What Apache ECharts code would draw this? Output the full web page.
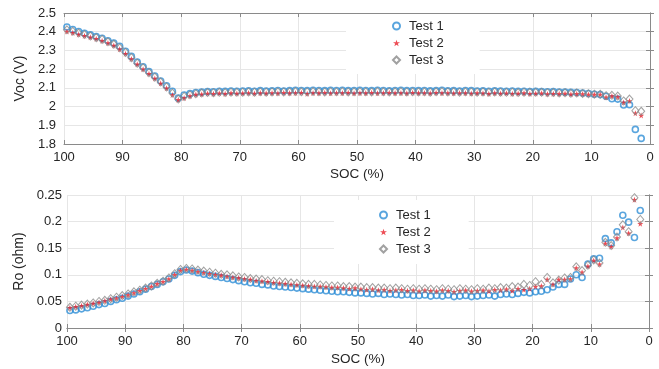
<!DOCTYPE html>
<html><head><meta charset="utf-8">
<script src="https://cdn.jsdelivr.net/npm/echarts@6/dist/echarts.min.js"></script>
<style>html,body{margin:0;padding:0;background:#fff}#c{width:659px;height:369px}</style>
</head><body><div id="c"></div>
<script>
const soc = [99.5,98.5,97.5,96.5,95.5,94.5,93.5,92.5,91.5,90.5,
89.5,88.5,87.5,86.5,85.5,84.5,83.5,82.5,81.5,80.5,
79.5,78.5,77.5,76.5,75.5,74.5,73.5,72.5,71.5,70.5,
69.5,68.5,67.5,66.5,65.5,64.5,63.5,62.5,61.5,60.5,
59.5,58.5,57.5,56.5,55.5,54.5,53.5,52.5,51.5,50.5,
49.5,48.5,47.5,46.5,45.5,44.5,43.5,42.5,41.5,40.5,
39.5,38.5,37.5,36.5,35.5,34.5,33.5,32.5,31.5,30.5,
29.5,28.5,27.5,26.5,25.5,24.5,23.5,22.5,21.5,20.5,
19.5,18.5,17.5,16.5,15.5,14.5,13.5,12.5,11.5,10.5,
9.5,8.5,7.5,6.5,5.5,4.5,3.5,2.5,1.5];

const vocTest1 = [2.425,2.412,2.401,2.392,2.383,2.374,2.365,2.352,2.339,2.322,
2.296,2.268,2.238,2.213,2.187,2.163,2.137,2.111,2.082,2.045,
2.062,2.069,2.075,2.077,2.080,2.079,2.082,2.081,2.083,2.082,
2.083,2.084,2.082,2.085,2.083,2.084,2.086,2.083,2.085,2.087,
2.086,2.085,2.087,2.086,2.085,2.087,2.086,2.087,2.085,2.086,
2.087,2.086,2.085,2.087,2.086,2.084,2.086,2.087,2.085,2.086,
2.085,2.086,2.084,2.085,2.087,2.084,2.085,2.083,2.086,2.085,
2.083,2.084,2.082,2.084,2.083,2.082,2.083,2.081,2.082,2.080,
2.081,2.080,2.079,2.080,2.078,2.077,2.076,2.075,2.072,2.070,
2.066,2.064,2.055,2.042,2.040,2.008,2.010,1.878,1.830];

const vocTest2 = [2.401,2.394,2.385,2.378,2.371,2.362,2.352,2.340,2.326,2.306,
2.282,2.254,2.226,2.200,2.175,2.150,2.124,2.098,2.062,2.036,
2.046,2.057,2.064,2.066,2.070,2.068,2.071,2.069,2.072,2.070,
2.071,2.073,2.070,2.072,2.071,2.073,2.071,2.074,2.072,2.073,
2.074,2.069,2.073,2.072,2.074,2.071,2.073,2.072,2.074,2.071,
2.073,2.072,2.074,2.071,2.073,2.074,2.072,2.073,2.071,2.074,
2.072,2.073,2.071,2.074,2.072,2.073,2.071,2.073,2.072,2.070,
2.072,2.071,2.068,2.072,2.070,2.071,2.069,2.070,2.072,2.069,
2.070,2.071,2.067,2.069,2.068,2.070,2.066,2.068,2.067,2.065,
2.064,2.065,2.050,2.056,2.051,2.022,2.030,1.964,1.952];

const vocTest3 = [2.410,2.402,2.393,2.385,2.377,2.368,2.359,2.346,2.333,2.314,
2.289,2.261,2.232,2.207,2.181,2.157,2.131,2.105,2.072,2.040,
2.054,2.063,2.069,2.072,2.075,2.074,2.076,2.075,2.077,2.076,
2.077,2.078,2.077,2.079,2.077,2.078,2.079,2.078,2.079,2.080,
2.079,2.078,2.080,2.079,2.078,2.080,2.079,2.080,2.078,2.079,
2.080,2.079,2.078,2.080,2.079,2.078,2.079,2.080,2.078,2.079,
2.078,2.079,2.077,2.079,2.080,2.078,2.079,2.077,2.079,2.078,
2.077,2.078,2.076,2.078,2.077,2.076,2.077,2.075,2.077,2.076,
2.076,2.076,2.074,2.075,2.073,2.074,2.071,2.072,2.070,2.068,
2.066,2.066,2.058,2.060,2.056,2.030,2.040,1.978,1.975];

const roTest1 = [0.033,0.034,0.036,0.038,0.041,0.044,0.046,0.050,0.053,0.056,
0.060,0.064,0.068,0.073,0.078,0.082,0.087,0.092,0.099,0.106,
0.109,0.107,0.104,0.101,0.099,0.097,0.095,0.093,0.091,0.089,
0.087,0.085,0.084,0.082,0.081,0.079,0.078,0.077,0.076,0.075,
0.074,0.073,0.072,0.071,0.070,0.069,0.068,0.068,0.067,0.066,
0.066,0.065,0.064,0.065,0.063,0.064,0.063,0.062,0.063,0.061,
0.061,0.062,0.060,0.061,0.060,0.062,0.059,0.060,0.061,0.059,
0.060,0.061,0.062,0.060,0.063,0.064,0.063,0.065,0.067,0.066,
0.068,0.069,0.072,0.077,0.082,0.082,0.092,0.100,0.095,0.120,
0.130,0.131,0.168,0.160,0.181,0.212,0.199,0.170,0.221];

const roTest2 = [0.038,0.040,0.042,0.044,0.046,0.048,0.051,0.054,0.056,0.059,
0.062,0.066,0.070,0.074,0.078,0.083,0.087,0.092,0.100,0.108,
0.110,0.108,0.106,0.104,0.102,0.100,0.099,0.097,0.095,0.094,
0.092,0.091,0.089,0.088,0.087,0.085,0.084,0.083,0.082,0.081,
0.080,0.079,0.078,0.078,0.077,0.076,0.076,0.075,0.074,0.075,
0.073,0.072,0.073,0.071,0.072,0.070,0.071,0.072,0.070,0.071,
0.069,0.071,0.070,0.069,0.071,0.070,0.068,0.070,0.071,0.069,
0.070,0.071,0.069,0.072,0.071,0.073,0.070,0.074,0.072,0.074,
0.078,0.079,0.091,0.082,0.091,0.091,0.092,0.113,0.105,0.116,
0.127,0.120,0.159,0.153,0.169,0.189,0.178,0.241,0.196];

const roTest3 = [0.039,0.041,0.043,0.045,0.047,0.050,0.052,0.055,0.058,0.061,
0.064,0.068,0.071,0.075,0.079,0.084,0.088,0.094,0.102,0.110,
0.112,0.111,0.109,0.107,0.105,0.103,0.101,0.100,0.098,0.096,
0.095,0.093,0.092,0.091,0.089,0.088,0.087,0.086,0.085,0.084,
0.083,0.082,0.082,0.081,0.080,0.079,0.079,0.078,0.078,0.077,
0.077,0.076,0.076,0.075,0.075,0.074,0.075,0.074,0.073,0.074,
0.073,0.074,0.073,0.072,0.074,0.073,0.072,0.074,0.073,0.072,
0.074,0.073,0.075,0.074,0.076,0.075,0.078,0.077,0.082,0.080,
0.087,0.082,0.095,0.085,0.090,0.094,0.095,0.115,0.108,0.118,
0.128,0.122,0.161,0.155,0.171,0.194,0.181,0.245,0.204];

const seriesNames = ['Test 1','Test 2','Test 3'];
const xTickInterval = 10;

const pairs = v => soc.map((s, i) => [s, v[i]]);
const txt = '#262626', axisCol = '#8a8a8a', gridCol = '#e6e6e6';
const font = 'Liberation Sans, Arial, sans-serif';
const blue = '#2f8fd6', red = '#e8212b', grey = '#8a8a8a';
const starPath = 'path://M5,0 L6.2,3.6 L10,3.6 L6.9,5.8 L8.1,9.5 L5,7.2 L1.9,9.5 L3.1,5.8 L0,3.6 L3.8,3.6 Z';

function xMain(gi, gap) {
  return {type:'value', gridIndex:gi, min:0, max:100, interval:xTickInterval, inverse:true, position:'bottom',
    axisLine:{show:true, lineStyle:{color:axisCol}}, axisTick:{inside:true, length:4, lineStyle:{color:axisCol}},
    axisLabel:{color:txt, fontSize:13, fontFamily:font, margin:7},
    splitLine:{show:true, lineStyle:{color:gridCol}},
    name:'SOC (%)', nameLocation:'middle', nameGap:gap, nameTextStyle:{color:txt, fontSize:13.5, fontFamily:font}};
}
function xTop(gi) {
  return {type:'value', gridIndex:gi, min:0, max:100, interval:xTickInterval, inverse:true, position:'top',
    axisLine:{show:true, lineStyle:{color:axisCol}}, axisTick:{inside:true, length:4, lineStyle:{color:axisCol}},
    axisLabel:{show:false}, splitLine:{show:false}};
}
function yMain(gi, min, max, itv, name, gap, margin) {
  return {type:'value', gridIndex:gi, min:min, max:max, interval:itv, position:'left',
    axisLine:{show:true, lineStyle:{color:axisCol}}, axisTick:{show:true, inside:true, length:4, lineStyle:{color:axisCol}},
    axisLabel:{color:txt, fontSize:13, fontFamily:font, margin:margin},
    splitLine:{show:true, lineStyle:{color:gridCol}},
    name:name, nameLocation:'middle', nameGap:gap, nameTextStyle:{color:txt, fontSize:14, fontFamily:font}};
}
function yRight(gi, min, max, itv) {
  return {type:'value', gridIndex:gi, min:min, max:max, interval:itv, position:'right',
    axisLine:{show:true, lineStyle:{color:axisCol}}, axisTick:{show:true, inside:true, length:4, lineStyle:{color:axisCol}},
    axisLabel:{show:false}, splitLine:{show:false}};
}
function mk(name, data, xi, yi) {
  const base = {name:name, type:'scatter', xAxisIndex:xi, yAxisIndex:yi, data:pairs(data)};
  if (name === 'Test 1') return Object.assign(base, {symbol:'circle', symbolSize:6, z:2,
    itemStyle:{color:'rgba(0,0,0,0)', borderColor:blue, borderWidth:1.6}});
  if (name === 'Test 2') return Object.assign(base, {symbol:starPath, symbolSize:6, z:3,
    itemStyle:{color:red}});
  return Object.assign(base, {symbol:'diamond', symbolSize:[7,8], z:4,
    itemStyle:{color:'rgba(0,0,0,0)', borderColor:grey, borderWidth:1}});
}
function legend(left, top, pad) {
  return {orient:'vertical', left:left, top:top, padding:pad, backgroundColor:'#fff',
    data:seriesNames, itemWidth:7, itemHeight:7, itemGap:3,
    textStyle:{color:txt, fontSize:13, fontFamily:font, lineHeight:14, padding:[0,0,0,4]}};
}

const chart = echarts.init(document.getElementById('c'), null, {renderer:'canvas'});
chart.setOption({
  animation:false,
  backgroundColor:'#fff',
  grid:[{left:64, right:9, top:13, height:131}, {left:67, right:10, top:195, height:133}],
  xAxis:[xMain(0, 23), xTop(0), xMain(1, 24), xTop(1)],
  yAxis:[yMain(0, 1.8, 2.5, 0.1, 'Voc (V)', 34, 8), yRight(0, 1.8, 2.5, 0.1),
         yMain(1, 0, 0.25, 0.05, 'Ro (ohm)', 37, 5), yRight(1, 0, 0.25, 0.05)],
  legend:[legend(346, 14, [5, 36, 7, 46]), legend(334, 200, [8, 38, 8, 45])],
  series:[
    mk('Test 1', vocTest1, 0, 0), mk('Test 2', vocTest2, 0, 0), mk('Test 3', vocTest3, 0, 0),
    mk('Test 1', roTest1, 2, 2), mk('Test 2', roTest2, 2, 2), mk('Test 3', roTest3, 2, 2)
  ]
});
</script></body></html>
